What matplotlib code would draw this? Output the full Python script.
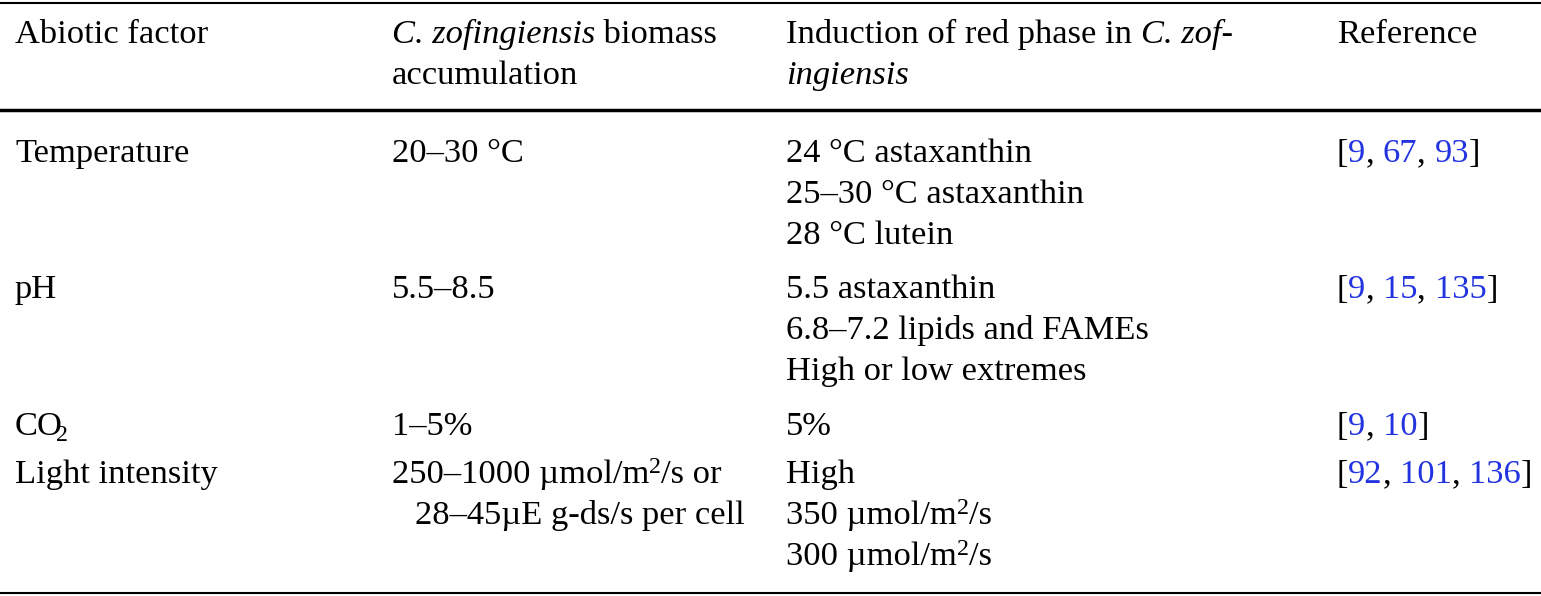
import matplotlib
matplotlib.use("Agg")
import matplotlib.pyplot as plt

plt.rcParams['font.family'] = ['Liberation Serif', 'DejaVu Serif']
FS = 24.8
BLUE = "#2233e0"
K = "black"

col_x = [15, 392, 786, 1337]

# each cell: list of lines; each line: list of segments (text, color, style, dy, scale)
def s(t, c=K, st="normal", dy=0, sc=1.0):
    return (t, c, st, dy, sc)

header = [
    [[s("Abiotic factor")]],
    [[s("C. zofingiensis", st="italic"), s(" biomass")], [s("accumulation")]],
    [[s("Induction of red phase in "), s("C. zof-", st="italic")], [s("ingiensis", st="italic")]],
    [[s("Reference")]],
]

def refs(nums):
    segs = [s("[")]
    for i, n in enumerate(nums):
        segs.append(s(str(n), BLUE))
        if i < len(nums) - 1:
            segs.append(s(", "))
    segs.append(s("]"))
    return [segs]

factors = ["Temperature", "pH", "CO2", "Light intensity"]
biomass = ["20–30 °C", "5.5–8.5", "1–5%", None]
induction = [
    ["24 °C astaxanthin", "25–30 °C astaxanthin", "28 °C lutein"],
    ["5.5 astaxanthin", "6.8–7.2 lipids and FAMEs", "High or low extremes"],
    ["5%"],
    None,
]
references = [[9, 67, 93], [9, 15, 135], [9, 10], [92, 101, 136]]

row_top = [152, 288, 425, 473]
line_gap = 41

fig = plt.figure(figsize=(15.41, 5.96), dpi=100)
ax = fig.add_axes([0, 0, 1, 1])
ax.set_xlim(0, 1541)
ax.set_ylim(596, 0)
ax.axis("off")
r = fig.canvas.get_renderer()

def draw_line(x, yc, segs):
    for t, c, st, dy, sc in segs:
        txt = ax.text(x, yc + 10 + dy, t, color=c, fontstyle=st,
                      fontsize=FS * sc, va="baseline", ha="left")
        bb = txt.get_window_extent(renderer=r)
        x += bb.width

def draw_cell(x, yc, lines, indent=None):
    for i, ln in enumerate(lines):
        xx = x + (indent[i] if indent else 0)
        draw_line(xx, yc + i * line_gap, ln)

# rules
ax.plot([0, 1541], [3, 3], color=K, lw=1.5)
ax.plot([0, 1541], [110, 110], color=K, lw=2.5)
ax.plot([0, 1541], [593, 593], color=K, lw=1.5)

for c, cell in enumerate(header):
    draw_cell(col_x[c], 33, cell)

for i, f in enumerate(factors):
    y = row_top[i]
    if f == "CO2":
        ax.text(col_x[0], y + 10, "CO", fontsize=FS, va="baseline", ha="left")
        ax.text(col_x[0] + 41, y + 16, "2", fontsize=FS * 0.7, va="baseline", ha="left")
    else:
        draw_cell(col_x[0], y, [[s(f)]])
    if biomass[i] is not None:
        draw_cell(col_x[1], y, [[s(biomass[i])]])
    if induction[i] is not None:
        draw_cell(col_x[2], y, [[s(t)] for t in induction[i]])
    draw_cell(col_x[3], y, refs(references[i]))

# light intensity row with superscripts
y = row_top[3]
draw_cell(col_x[1], y, [
    [s("250–1000 µmol/m"), s("2", dy=-10, sc=0.7), s("/s or")],
    [s("28–45µE g-ds/s per cell")],
], indent=[0, 23])
draw_cell(col_x[2], y, [
    [s("High")],
    [s("350 µmol/m"), s("2", dy=-10, sc=0.7), s("/s")],
    [s("300 µmol/m"), s("2", dy=-10, sc=0.7), s("/s")],
])

fig.savefig("out.png", dpi=100)
